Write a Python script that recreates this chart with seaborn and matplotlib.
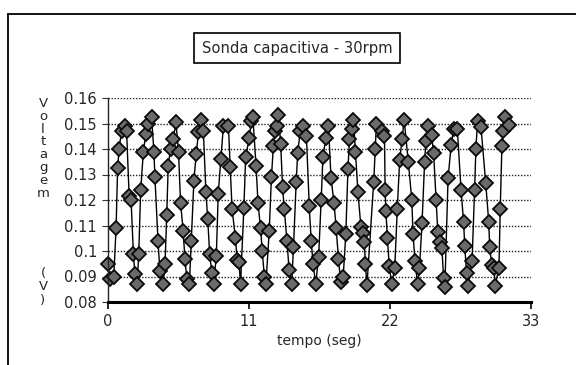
import matplotlib
matplotlib.use("Agg")
import matplotlib.pyplot as plt
from matplotlib.lines import Line2D
import seaborn as sns
import pandas as pd

# ---- data ----
tempo = [0.00, 0.12, 0.45, 0.63, 0.75, 0.86, 1.06, 1.30, 1.45, 1.65, 1.80, 1.98, 2.10, 2.27,
         2.40, 2.55, 2.76, 2.95, 3.15, 3.40, 3.58, 3.66, 3.90, 4.05, 4.30, 4.45, 4.58, 4.70,
         4.88, 5.10, 5.30, 5.50, 5.66, 5.86, 6.00, 6.15, 6.35, 6.50, 6.70, 6.88, 7.06, 7.24,
         7.44, 7.64, 7.78, 7.93, 8.10, 8.24, 8.45, 8.60, 8.80, 9.00, 9.40, 9.53, 9.68, 9.94,
         10.08, 10.22, 10.34, 10.60, 10.74, 11.03, 11.17, 11.30, 11.55, 11.70, 11.90, 12.03,
         12.20, 12.32, 12.58, 12.75, 12.90, 13.04, 13.20, 13.30, 13.47, 13.62, 13.75, 13.96,
         14.13, 14.33, 14.47, 14.68, 14.80, 15.00, 15.20, 15.48, 15.70, 15.85, 16.00, 16.20,
         16.43, 16.63, 16.77, 17.00, 17.20, 17.40, 17.63, 17.80, 17.98, 18.15, 18.35, 18.55,
         18.72, 18.84, 19.00, 19.15, 19.30, 19.50, 19.73, 19.88, 20.00, 20.08, 20.20, 20.73,
         20.85, 20.94, 21.37, 21.57, 21.62, 21.68, 21.80, 21.94, 22.14, 22.37, 22.57, 22.75,
         22.95, 23.10, 23.43, 23.70, 23.80, 23.95, 24.15, 24.30, 24.50, 24.70, 24.80, 24.95,
         25.24, 25.40, 25.60, 25.73, 25.90, 26.05, 26.18, 26.28, 26.53, 26.77, 26.97, 27.25,
         27.54, 27.74, 27.83, 27.97, 28.10, 28.40, 28.60, 28.70, 28.83, 29.10, 29.47, 29.70,
         29.78, 29.93, 30.12, 30.20, 30.50, 30.60, 30.73, 30.85, 31.00, 31.27]
voltagem = [0.095, 0.089, 0.090, 0.109, 0.1325, 0.140, 0.147, 0.149, 0.147, 0.1215, 0.120, 0.099,
            0.091, 0.087, 0.099, 0.124, 0.139, 0.146, 0.150, 0.1525, 0.139, 0.129, 0.104, 0.092,
            0.087, 0.095, 0.114, 0.1335, 0.140, 0.144, 0.1505, 0.139, 0.119, 0.108, 0.097, 0.089,
            0.087, 0.104, 0.1275, 0.138, 0.1465, 0.1515, 0.147, 0.123, 0.1125, 0.099, 0.0915,
            0.087, 0.098, 0.1225, 0.136, 0.149, 0.149, 0.133, 0.1165, 0.105, 0.0965, 0.0955,
            0.087, 0.117, 0.137, 0.1445, 0.151, 0.1525, 0.1335, 0.119, 0.109, 0.100, 0.090,
            0.087, 0.108, 0.129, 0.141, 0.147, 0.149, 0.1535, 0.142, 0.125, 0.1165, 0.104,
            0.0925, 0.087, 0.1015, 0.127, 0.1385, 0.147, 0.149, 0.145, 0.1175, 0.104, 0.095,
            0.087, 0.0975, 0.120, 0.137, 0.1445, 0.149, 0.1285, 0.119, 0.109, 0.097, 0.088,
            0.090, 0.1065, 0.132, 0.144, 0.148, 0.1515, 0.139, 0.123, 0.1095, 0.107, 0.1035,
            0.095, 0.0865, 0.127, 0.140, 0.150, 0.147, 0.145, 0.124, 0.1155, 0.105, 0.094,
            0.087, 0.0935, 0.1165, 0.1355, 0.144, 0.1515, 0.135, 0.120, 0.1065, 0.096, 0.087,
            0.0935, 0.111, 0.135, 0.143, 0.149, 0.1455, 0.1385, 0.120, 0.1075, 0.1035, 0.101,
            0.0895, 0.086, 0.1285, 0.1415, 0.148, 0.148, 0.124, 0.1115, 0.102, 0.0915, 0.0863,
            0.096, 0.124, 0.140, 0.151, 0.1485, 0.1265, 0.1115, 0.1015, 0.0945, 0.0935, 0.0863,
            0.0935, 0.1165, 0.141, 0.147, 0.1525, 0.1495]

y_ticks = [0.08, 0.09, 0.10, 0.11, 0.12, 0.13, 0.14, 0.15, 0.16]
y_tick_labels = ["0.08", "0.09", "0.1", "0.11", "0.12", "0.13", "0.14", "0.15", "0.16"]
x_ticks = [0, 11, 22, 33]
x_tick_labels = ["0", "11", "22", "33"]
titulo = "Sonda capacitiva - 30rpm"
rotulo_x = "tempo (seg)"
rotulo_y_1 = "Voltagem"
rotulo_y_2 = "(V)"

df = pd.DataFrame({"tempo": tempo, "voltagem": voltagem})

sns.set_theme(style="white")
plt.rcParams["font.family"] = ["DejaVu Sans"]

fig = plt.figure(figsize=(5.76, 3.65), dpi=100)
ax = fig.add_axes([108 / 576, 1 - 302 / 365, (531 - 108) / 576, (302 - 98) / 365])

sns.lineplot(data=df, x="tempo", y="voltagem", ax=ax, sort=False, estimator=None,
             color="black", linewidth=1.0, marker="D", markersize=7,
             markerfacecolor="#6a6a6a", markeredgecolor="#0a0a0a", markeredgewidth=1.3)
for ln in ax.get_lines():
    ln.set_clip_on(False)

ax.set_xlim(0, 33)
ax.set_ylim(0.08, 0.16)
ax.set_xticks(x_ticks)
ax.set_xticklabels(x_tick_labels, fontsize=10.5)
ax.set_yticks(y_ticks)
ax.set_yticklabels(y_tick_labels, fontsize=10.5)
ax.set_xlabel(rotulo_x, fontsize=10, labelpad=3)
ax.set_ylabel("")

for yv in y_ticks[1:]:
    ax.axhline(yv, color="#222222", linestyle=(0, (1, 1.2)), linewidth=1.0, zorder=0)

for s in ["top", "right"]:
    ax.spines[s].set_visible(False)
ax.spines["left"].set_linestyle((0, (1, 1)))
ax.spines["left"].set_linewidth(1.0)
ax.spines["left"].set_color("#222222")
ax.spines["bottom"].set_linewidth(2.2)
ax.spines["bottom"].set_color("black")
ax.tick_params(axis="x", direction="out", length=5, width=1.2, color="black", pad=4,
               bottom=True)
ax.tick_params(axis="y", direction="out", length=4, width=0.8, color="#333333", pad=4,
               left=True)
ax.grid(False)

# stacked y label
fig.text(43 / 576, 1 - 97 / 365, "\n".join(rotulo_y_1), ha="center", va="top",
         fontsize=9.5, linespacing=0.98)
fig.text(43 / 576, 1 - 307 / 365, "\n".join(rotulo_y_2), ha="center", va="bottom",
         fontsize=9.5, linespacing=1.05)

# title box
fig.text(297 / 576, 1 - 48 / 365, titulo, ha="center", va="center", fontsize=10.6,
         bbox=dict(boxstyle="square,pad=0.5", fc="white", ec="black", lw=1.2))

# outer frame lines
fig.add_artist(Line2D([8 / 576, 8 / 576], [0, 1 - 14 / 365], color="black", lw=1.3,
                      transform=fig.transFigure))
fig.add_artist(Line2D([8 / 576, 1], [1 - 14 / 365, 1 - 14 / 365], color="black", lw=1.3,
                      transform=fig.transFigure))

fig.savefig("out.png", dpi=100, facecolor="white")
